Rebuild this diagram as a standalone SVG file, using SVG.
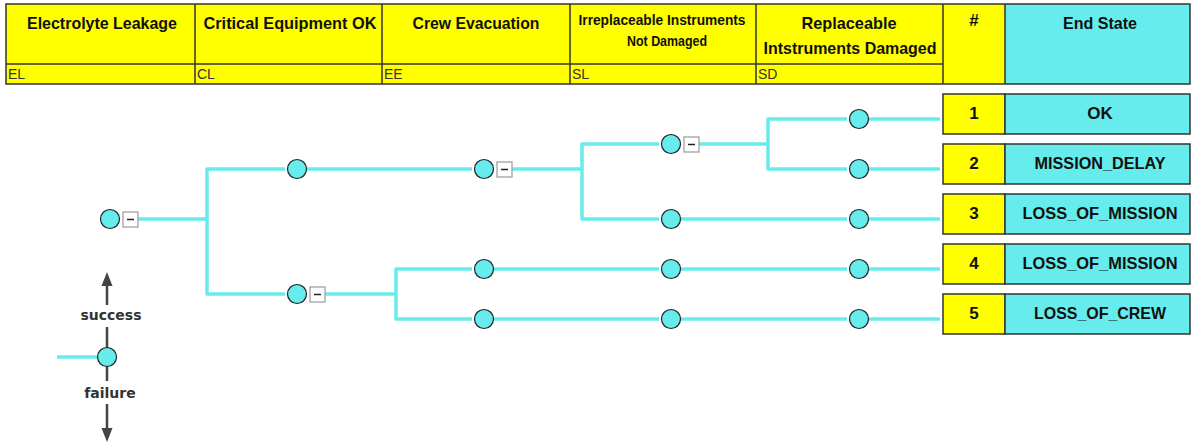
<svg xmlns="http://www.w3.org/2000/svg" width="1191" height="443" viewBox="0 0 1191 443">
<style>
.hdr{font-family:"Liberation Sans",Arial,sans-serif;font-weight:bold;font-size:17px;fill:#111;text-anchor:middle}
.hdrs{font-family:"Liberation Sans",Arial,sans-serif;font-weight:bold;font-size:14px;fill:#111;text-anchor:middle}
.sub{font-family:"Liberation Sans",Arial,sans-serif;font-size:14px;fill:#333}
.es{font-family:"Liberation Sans",Arial,sans-serif;font-weight:bold;font-size:17px;fill:#111;text-anchor:middle}
.leg{font-family:"DejaVu Sans",Verdana,sans-serif;font-weight:bold;font-size:14px;fill:#333;text-anchor:middle}
.grid{stroke:#333;stroke-width:1.5;fill:none}
.by{fill:#ffff00;stroke:#333;stroke-width:1.5}
.bc{fill:#66ecec;stroke:#333;stroke-width:1.5}
.br{fill:none;stroke:#66ecec;stroke-width:3.5;stroke-linejoin:round;stroke-linecap:butt}
.node{fill:#66ecec;stroke:#222;stroke-width:1.2}
.mb{fill:#fff;stroke:#999;stroke-width:1.2}
.mn{stroke:#222;stroke-width:1.5}
.ar{stroke:#444;stroke-width:2.5;fill:none}
.arh{fill:#444}
</style>
<defs>
<g id="minus"><rect class="mb" x="0" y="0" width="15" height="15"/><line class="mn" x1="4" y1="7.5" x2="11" y2="7.5"/></g>
</defs>

<g id="header">
<rect x="6" y="4" width="999" height="80" fill="#ffff00"/>
<rect x="1005" y="4" width="185" height="80" fill="#66ecec"/>
<rect class="grid" x="6" y="4" width="1184" height="80"/>
<line class="grid" x1="6" y1="64" x2="943" y2="64"/>
<line class="grid" x1="195" y1="4" x2="195" y2="84"/>
<line class="grid" x1="382" y1="4" x2="382" y2="84"/>
<line class="grid" x1="570" y1="4" x2="570" y2="84"/>
<line class="grid" x1="756" y1="4" x2="756" y2="84"/>
<line class="grid" x1="943" y1="4" x2="943" y2="84"/>
<line class="grid" x1="1005" y1="4" x2="1005" y2="84"/>
<text class="hdr" x="102" y="28.5" textLength="150" lengthAdjust="spacingAndGlyphs">Electrolyte Leakage</text>
<text class="hdr" x="290" y="28.5" textLength="173" lengthAdjust="spacingAndGlyphs">Critical Equipment OK</text>
<text class="hdr" x="476" y="28.5" textLength="127" lengthAdjust="spacingAndGlyphs">Crew Evacuation</text>
<text class="hdrs" x="662" y="25" textLength="167" lengthAdjust="spacingAndGlyphs">Irreplaceable Instruments</text>
<text class="hdrs" x="667" y="45.5" textLength="80" lengthAdjust="spacingAndGlyphs">Not Damaged</text>
<text class="hdr" x="849" y="28.5" textLength="95" lengthAdjust="spacingAndGlyphs">Replaceable</text>
<text class="hdr" x="850" y="53.5" textLength="173" lengthAdjust="spacingAndGlyphs">Intstruments Damaged</text>
<text class="hdr" x="974" y="26">#</text>
<text class="hdr" x="1100" y="28.5" textLength="74" lengthAdjust="spacingAndGlyphs">End State</text>
<text class="sub" x="8" y="79">EL</text>
<text class="sub" x="197" y="79">CL</text>
<text class="sub" x="384" y="79">EE</text>
<text class="sub" x="572" y="79">SL</text>
<text class="sub" x="758" y="79">SD</text>
</g>

<g id="connectors">
<path class="br" d="M138,219 H207"/>
<path class="br" d="M285,169 H207 V294 H285"/>
<path class="br" d="M306,169 H472"/>
<path class="br" d="M512,169 H582"/>
<path class="br" d="M659,144 H582 V219 H659"/>
<path class="br" d="M699,144 H768"/>
<path class="br" d="M847,119 H768 V169 H847"/>
<path class="br" d="M868,119 H940"/>
<path class="br" d="M868,169 H940"/>
<path class="br" d="M680,219 H847"/>
<path class="br" d="M868,219 H940"/>
<path class="br" d="M325,294 H396"/>
<path class="br" d="M472,269 H396 V319 H472"/>
<path class="br" d="M493,269 H659"/>
<path class="br" d="M680,269 H847"/>
<path class="br" d="M868,269 H940"/>
<path class="br" d="M493,319 H659"/>
<path class="br" d="M680,319 H847"/>
<path class="br" d="M868,319 H940"/>
</g>

<g id="n-EL"><circle class="node" cx="110" cy="219" r="9.5"/><use href="#minus" x="123" y="212"/></g>
<g id="n-CL-s"><circle class="node" cx="297" cy="169" r="9.5"/></g>
<g id="n-CL-f"><circle class="node" cx="297" cy="294" r="9.5"/><use href="#minus" x="310" y="287"/></g>
<g id="n-EE-s"><circle class="node" cx="484" cy="169" r="9.5"/><use href="#minus" x="497" y="162"/></g>
<g id="n-EE-f1"><circle class="node" cx="484" cy="269" r="9.5"/></g>
<g id="n-EE-f2"><circle class="node" cx="484" cy="319" r="9.5"/></g>
<g id="n-SL-1"><circle class="node" cx="671" cy="144" r="9.5"/><use href="#minus" x="684" y="137"/></g>
<g id="n-SL-2"><circle class="node" cx="671" cy="219" r="9.5"/></g>
<g id="n-SL-3"><circle class="node" cx="671" cy="269" r="9.5"/></g>
<g id="n-SL-4"><circle class="node" cx="671" cy="319" r="9.5"/></g>
<g id="n-SD-1"><circle class="node" cx="859" cy="119" r="9.5"/></g>
<g id="n-SD-2"><circle class="node" cx="859" cy="169" r="9.5"/></g>
<g id="n-SD-3"><circle class="node" cx="859" cy="219" r="9.5"/></g>
<g id="n-SD-4"><circle class="node" cx="859" cy="269" r="9.5"/></g>
<g id="n-SD-5"><circle class="node" cx="859" cy="319" r="9.5"/></g>

<g id="es-1"><rect class="by" x="943" y="94" width="62" height="40"/><rect class="bc" x="1005" y="94" width="185" height="40"/><text class="es" x="974" y="119">1</text><text class="es" x="1100" y="119">OK</text></g>
<g id="es-2"><rect class="by" x="943" y="144" width="62" height="40"/><rect class="bc" x="1005" y="144" width="185" height="40"/><text class="es" x="974" y="169">2</text><text class="es" x="1100" y="169" textLength="131" lengthAdjust="spacingAndGlyphs">MISSION_DELAY</text></g>
<g id="es-3"><rect class="by" x="943" y="194" width="62" height="40"/><rect class="bc" x="1005" y="194" width="185" height="40"/><text class="es" x="974" y="219">3</text><text class="es" x="1100" y="219" textLength="155" lengthAdjust="spacingAndGlyphs">LOSS_OF_MISSION</text></g>
<g id="es-4"><rect class="by" x="943" y="244" width="62" height="40"/><rect class="bc" x="1005" y="244" width="185" height="40"/><text class="es" x="974" y="269">4</text><text class="es" x="1100" y="269" textLength="155" lengthAdjust="spacingAndGlyphs">LOSS_OF_MISSION</text></g>
<g id="es-5"><rect class="by" x="943" y="294" width="62" height="40"/><rect class="bc" x="1005" y="294" width="185" height="40"/><text class="es" x="974" y="319">5</text><text class="es" x="1100" y="319" textLength="132" lengthAdjust="spacingAndGlyphs">LOSS_OF_CREW</text></g>

<g id="legend">
<line class="ar" x1="107" y1="305" x2="107" y2="284"/>
<polygon class="arh" points="107,272 101.5,286 112.5,286"/>
<text class="leg" x="111" y="320">success</text>
<line class="ar" x1="107" y1="327" x2="107" y2="381"/>
<path class="br" d="M57,357 H97"/>
<circle class="node" cx="107" cy="357" r="9.5"/>
<text class="leg" x="110" y="398">failure</text>
<line class="ar" x1="107" y1="404" x2="107" y2="430"/>
<polygon class="arh" points="107,442 101.5,428 112.5,428"/>
</g>
</svg>
